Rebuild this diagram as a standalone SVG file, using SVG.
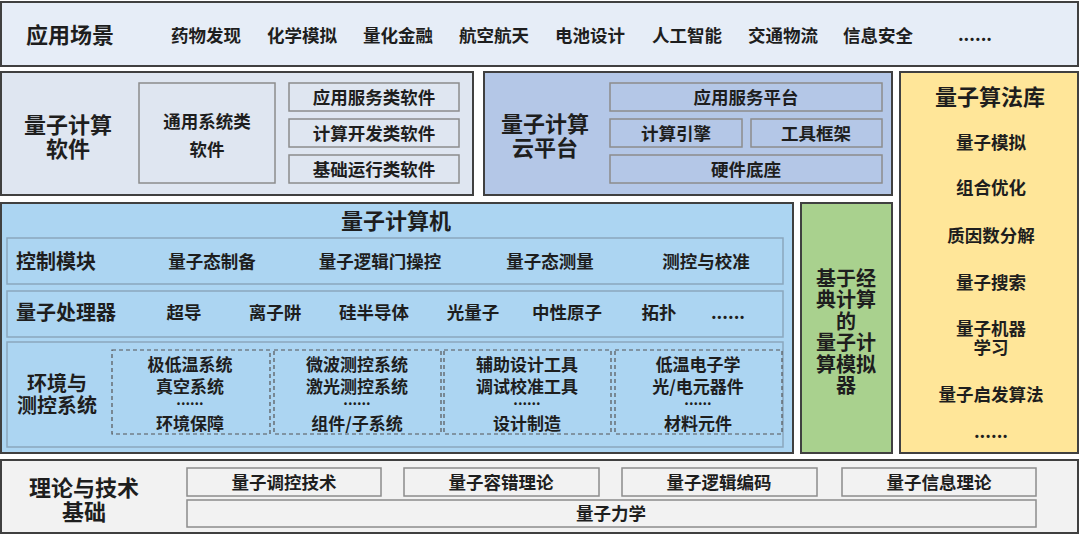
<svg xmlns="http://www.w3.org/2000/svg" width="1080" height="536" viewBox="0 0 1080 536">
<style>
text{font-family:"Noto Sans CJK SC","Noto Sans",sans-serif;font-weight:bold;fill:#1e1e1e;text-anchor:middle;dominant-baseline:central}
.outer{stroke:#404040;stroke-width:2}
.inner{stroke:#8c8c8c;stroke-width:1.5}
.row{stroke:#8aa6bd;stroke-width:1.5;fill:#acd5f2}
.dash{stroke:#555;stroke-width:1.2;stroke-dasharray:4 3;fill:none}
.t22{font-size:22px}
.t20{font-size:20px}
.t18{font-size:17.5px}
.t17{font-size:17px}
.dots{font-size:14px}
</style>
<rect width="1080" height="536" fill="#ffffff"/>

<g id="apps">
<rect class="outer" x="1" y="2" width="1077" height="64" fill="#e6edf7"/>
<text class="t22" x="70" y="33">应用场景</text>
<text class="t18" x="206" y="34">药物发现</text>
<text class="t18" x="302" y="34">化学模拟</text>
<text class="t18" x="398" y="34">量化金融</text>
<text class="t18" x="494" y="34">航空航天</text>
<text class="t18" x="590" y="34">电池设计</text>
<text class="t18" x="687" y="34">人工智能</text>
<text class="t18" x="783" y="34">交通物流</text>
<text class="t18" x="878" y="34">信息安全</text>
<text class="t18" x="975" y="33">......</text>
</g>

<g id="software">
<rect class="outer" x="1" y="72" width="472" height="123" fill="#dfe6f1"/>
<text class="t22" x="68" y="123">量子计算</text>
<text class="t22" x="68" y="147">软件</text>
<rect class="inner" x="139" y="83" width="136" height="100" fill="#dfe6f1"/>
<text class="t18" x="207" y="120">通用系统类</text>
<text class="t18" x="207" y="148">软件</text>
<rect class="inner" x="289" y="83" width="170" height="28" fill="#dfe6f1"/>
<text class="t18" x="374" y="96">应用服务类软件</text>
<rect class="inner" x="289" y="119" width="170" height="28" fill="#dfe6f1"/>
<text class="t18" x="374" y="132">计算开发类软件</text>
<rect class="inner" x="289" y="155" width="170" height="28" fill="#dfe6f1"/>
<text class="t18" x="374" y="168">基础运行类软件</text>
</g>

<g id="cloud">
<rect class="outer" x="484" y="72" width="408" height="123" fill="#b4c7e7"/>
<text class="t22" x="545" y="122">量子计算</text>
<text class="t22" x="545" y="146">云平台</text>
<rect class="inner" x="610" y="83" width="272" height="28" fill="#b4c7e7"/>
<text class="t18" x="746" y="96">应用服务平台</text>
<rect class="inner" x="610" y="119" width="132" height="28" fill="#b4c7e7"/>
<text class="t18" x="676" y="132">计算引擎</text>
<rect class="inner" x="751" y="119" width="131" height="28" fill="#b4c7e7"/>
<text class="t18" x="816" y="132">工具框架</text>
<rect class="inner" x="610" y="155" width="272" height="28" fill="#b4c7e7"/>
<text class="t18" x="746" y="168">硬件底座</text>
</g>

<g id="algorithms">
<rect class="outer" x="900" y="72" width="178" height="381" fill="#ffe699"/>
<text class="t22" x="990" y="95">量子算法库</text>
<text class="t18" x="991" y="141">量子模拟</text>
<text class="t18" x="991" y="186">组合优化</text>
<text class="t18" x="991" y="234">质因数分解</text>
<text class="t18" x="991" y="281">量子搜索</text>
<text class="t18" x="991" y="327">量子机器</text>
<text class="t18" x="991" y="346">学习</text>
<text class="t18" x="991" y="393">量子启发算法</text>
<text class="t18" x="991" y="430">......</text>
</g>

<g id="computer">
<rect class="outer" x="1" y="203" width="792" height="250" fill="#acd5f2"/>
<text class="t22" x="396" y="219">量子计算机</text>
<rect class="row" x="7" y="238" width="776" height="46"/>
<text class="t20" x="56" y="260">控制模块</text>
<text class="t18" x="212" y="260">量子态制备</text>
<text class="t18" x="380" y="260">量子逻辑门操控</text>
<text class="t18" x="550" y="260">量子态测量</text>
<text class="t18" x="706" y="260">测控与校准</text>
<rect class="row" x="7" y="291" width="776" height="46"/>
<text class="t20" x="66" y="311">量子处理器</text>
<text class="t18" x="184" y="311">超导</text>
<text class="t18" x="275" y="311">离子阱</text>
<text class="t18" x="374" y="311">硅半导体</text>
<text class="t18" x="473" y="311">光量子</text>
<text class="t18" x="567" y="311">中性原子</text>
<text class="t18" x="659" y="311">拓扑</text>
<text class="t18" x="728" y="311">......</text>
<rect class="row" x="7" y="342" width="776" height="105"/>
<text class="t20" x="57" y="382">环境与</text>
<text class="t20" x="57" y="404">测控系统</text>
<rect class="dash" x="112" y="350" width="158" height="84"/>
<text class="t17" x="190" y="363">极低温系统</text>
<text class="t17" x="190" y="385">真空系统</text>
<text class="dots" x="190" y="399">......</text>
<text class="t17" x="190" y="422">环境保障</text>
<rect class="dash" x="274" y="350" width="167" height="84"/>
<text class="t17" x="357" y="363">微波测控系统</text>
<text class="t17" x="357" y="385">激光测控系统</text>
<text class="dots" x="357" y="399">......</text>
<text class="t17" x="357" y="422">组件/子系统</text>
<rect class="dash" x="444" y="350" width="167" height="84"/>
<text class="t17" x="527" y="363">辅助设计工具</text>
<text class="t17" x="527" y="385">调试校准工具</text>
<text class="dots" x="527" y="399">......</text>
<text class="t17" x="527" y="422">设计制造</text>
<rect class="dash" x="615" y="350" width="167" height="84"/>
<text class="t17" x="698" y="363">低温电子学</text>
<text class="t17" x="698" y="385">光/电元器件</text>
<text class="dots" x="698" y="399">......</text>
<text class="t17" x="698" y="422">材料元件</text>
</g>

<g id="simulator">
<rect class="outer" x="801" y="203" width="91" height="250" fill="#a9d18e"/>
<text class="t20" x="846" y="277">基于经</text>
<text class="t20" x="846" y="298">典计算</text>
<text class="t20" x="846" y="320">的</text>
<text class="t20" x="846" y="341">量子计</text>
<text class="t20" x="846" y="363">算模拟</text>
<text class="t20" x="846" y="384">器</text>
</g>

<g id="foundation">
<rect class="outer" x="1" y="460" width="1077" height="73" fill="#f2f2f2"/>
<text class="t22" x="84" y="486">理论与技术</text>
<text class="t22" x="84" y="510">基础</text>
<rect class="inner" x="187" y="468" width="194" height="28" fill="#f2f2f2"/>
<text class="t18" x="284" y="481">量子调控技术</text>
<rect class="inner" x="404" y="468" width="195" height="28" fill="#f2f2f2"/>
<text class="t18" x="501" y="481">量子容错理论</text>
<rect class="inner" x="622" y="468" width="195" height="28" fill="#f2f2f2"/>
<text class="t18" x="719" y="481">量子逻辑编码</text>
<rect class="inner" x="842" y="468" width="194" height="28" fill="#f2f2f2"/>
<text class="t18" x="939" y="481">量子信息理论</text>
<rect class="inner" x="187" y="500" width="849" height="27" fill="#f2f2f2"/>
<text class="t18" x="611" y="512">量子力学</text>
</g>

<g id="connectors"></g>
</svg>
